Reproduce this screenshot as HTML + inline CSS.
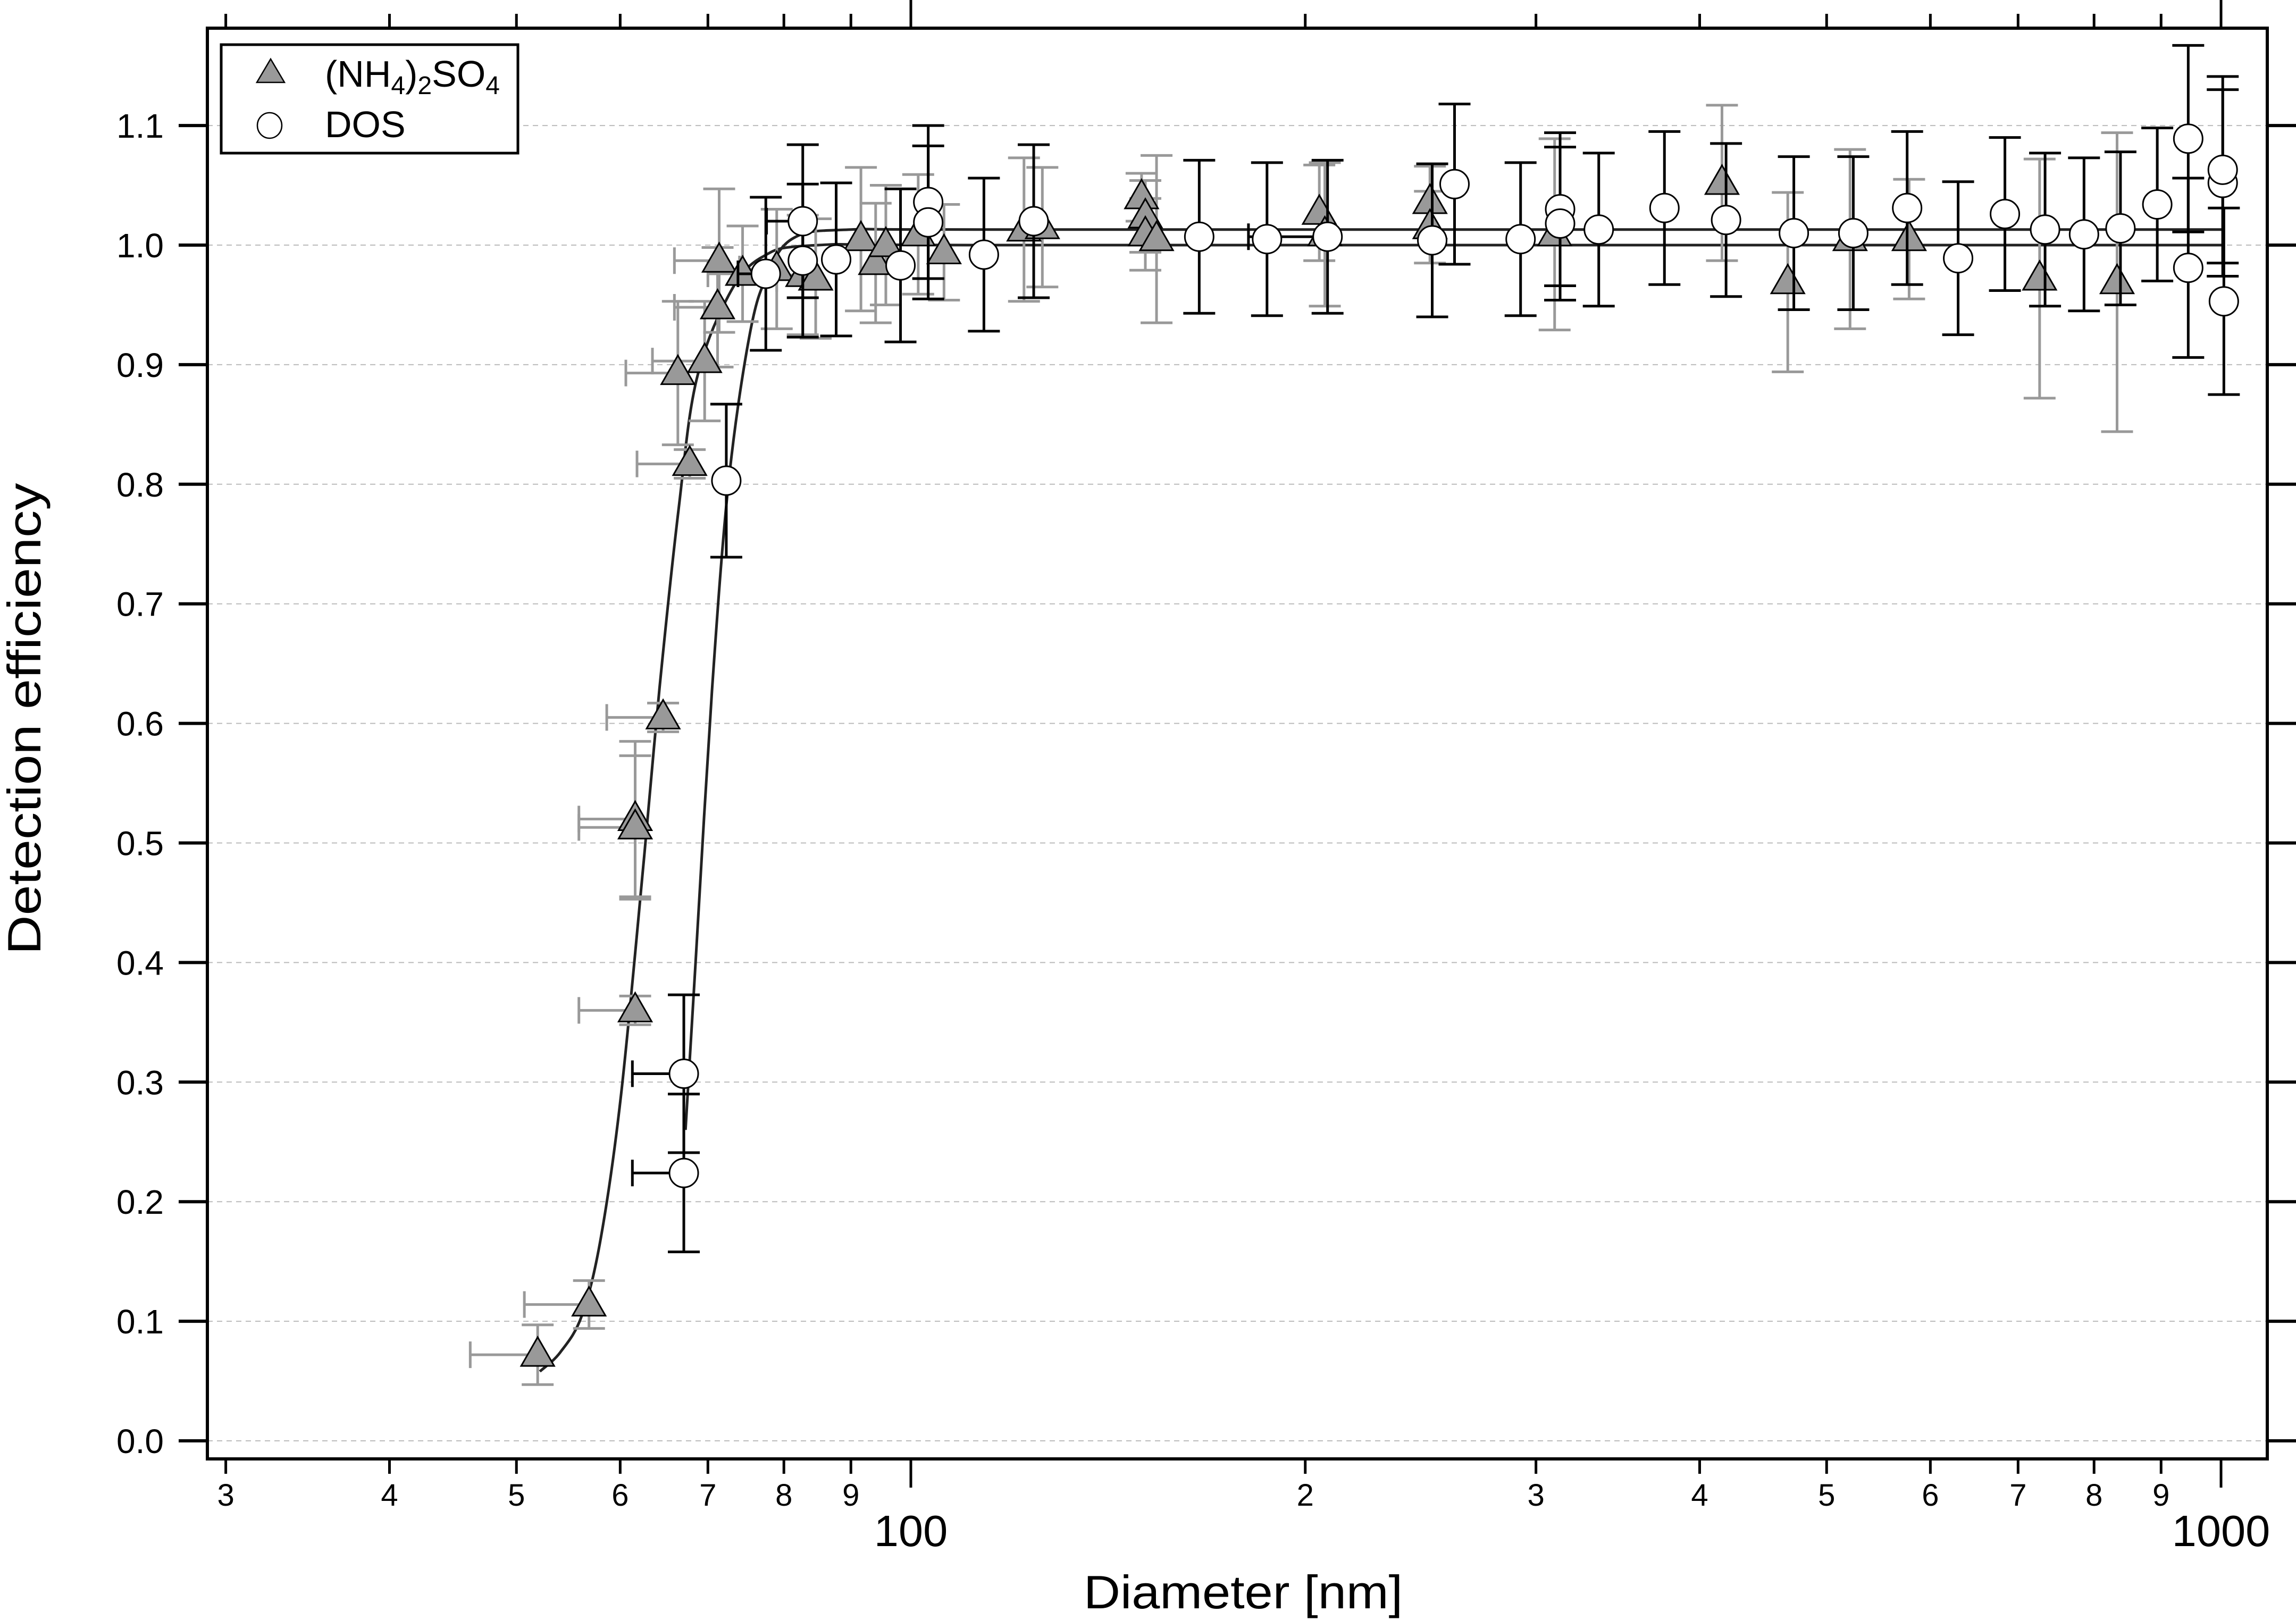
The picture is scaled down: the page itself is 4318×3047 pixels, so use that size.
<!DOCTYPE html>
<html><head><meta charset="utf-8"><style>
html,body{margin:0;padding:0;background:#fff}
svg{display:block;font-family:"Liberation Sans",Arial,sans-serif}
</style></head><body>
<svg id="chart" width="4318" height="3047" viewBox="0 0 4318 3047" xmlns="http://www.w3.org/2000/svg">
<rect x="0" y="0" width="4318" height="3047" fill="#fff"/>
<g id="grid"></g>
<g id="curves"></g>
<g id="tri-err"></g>
<g id="tri-pts"></g>
<g id="circ-err"></g>
<g id="circ-pts"></g>
<g id="axes"></g>
<g>
  <rect x="416" y="84" width="558" height="204" fill="#fff" stroke="#000" stroke-width="5"/>
  <polygon points="509,111 535,155 483,155" fill="#999" stroke="#000" stroke-width="2.5"/>
  <text x="611" y="163" font-size="70">(NH<tspan font-size="48" dy="14">4</tspan><tspan dy="-14">)</tspan><tspan font-size="48" dy="14">2</tspan><tspan dy="-14">SO</tspan><tspan font-size="48" dy="14">4</tspan></text>
  <ellipse cx="507" cy="236" rx="23" ry="24" fill="#fff" stroke="#000" stroke-width="2.5"/>
  <text x="611" y="258" font-size="70">DOS</text>
</g>
<text x="2338" y="3025" font-size="88" text-anchor="middle" textLength="600" lengthAdjust="spacingAndGlyphs">Diameter [nm]</text>
<text transform="translate(76,1352) rotate(-90)" x="0" y="0" font-size="88" text-anchor="middle" textLength="887" lengthAdjust="spacingAndGlyphs">Detection efficiency</text>
</svg>
<script>
// ---- data ----
const triD   = [51.9,56.8,61.6,61.6,61.6,64.7,66.4,67.8,69.6,71.2,71.4,74.4,79,82.7,84.6,91.6,94,95.7,101.3,106,122,126,150,151,151,154,205,207,249,249,310,416,467,521,578,727,833];
const triV   = [0.072,0.114,0.36,0.52,0.513,0.605,0.893,0.817,0.903,0.948,0.987,0.976,0.98,0.975,0.972,1.005,0.985,1.0,1.009,0.994,1.013,1.015,1.04,1.024,1.009,1.005,1.027,1.009,1.036,1.015,1.009,1.052,0.969,1.005,1.005,0.972,0.969];
const triYErr= [0.025,0.02,0.012,0.065,0.06,0.012,0.06,0.012,0.05,0.05,0.06,0.04,0.05,0.05,0.05,0.06,0.05,0.05,0.05,0.04,0.06,0.05,0.02,0.03,0.03,0.07,0.04,0.06,0.03,0.03,0.08,0.065,0.075,0.075,0.05,0.1,0.125];
const triXLo = [46.1,50.7,55.8,55.8,55.8,58.6,60.6,61.8,63.5,66,66,70,74,77,79,0,0,0,0,0,0,0,0,0,0,0,0,0,0,0,0,0,0,0,0,0,0];
const circD  = [67.1,67.1,72.3,77.5,82.7,82.7,87.7,98.2,103.1,103.1,113.7,124.1,166,187,208,250,260,292,313,313,335,376,419,472,524,576,630,684,734,786,838,894,944,944,1003,1003,1005];
const circV  = [0.224,0.307,0.803,0.976,1.02,0.987,0.988,0.983,1.036,1.019,0.992,1.02,1.007,1.005,1.007,1.004,1.051,1.005,1.03,1.018,1.013,1.031,1.021,1.01,1.01,1.031,0.989,1.026,1.013,1.009,1.014,1.034,1.089,0.981,1.052,1.063,0.953];
const circYErr=[0.066,0.066,0.064,0.064,0.064,0.064,0.064,0.064,0.064,0.064,0.064,0.064,0.064,0.064,0.064,0.064,0.067,0.064,0.064,0.064,0.064,0.064,0.064,0.064,0.064,0.064,0.064,0.064,0.064,0.064,0.064,0.064,0.078,0.075,0.078,0.078,0.078];
const circXLo= [61.3,61.3,0,73.8,77.6,0,0,0,0,0,0,0,0,0,181,0,0,0,0,0,0,0,0,0,0,0,0,0,0,0,0,0,0,0,0,0,0];
const fitTriD = [52.1,54,56.1,58,60.1,62.6,64.3,66.5,68.6,72.6,77,85,120,1005];
const fitTriV = [0.058,0.074,0.105,0.17,0.29,0.49,0.63,0.78,0.887,0.958,0.99,1.0,1.0,1.0];
const fitCircD = [67.3,68.5,70.5,72.6,75.3,77.7,81.4,90,120,1005];
const fitCircV = [0.26,0.4,0.627,0.802,0.924,0.975,1.006,1.013,1.013,1.013];
const xMinorTicks = [30,40,50,60,70,80,90,200,300,400,500,600,700,800,900];
const xMinorLabels = ["3","4","5","6","7","8","9","2","3","4","5","6","7","8","9"];
const xMajorTicks = [100,1000];
const xMajorLabels = ["100","1000"];
const yTicks = [0,0.1,0.2,0.3,0.4,0.5,0.6,0.7,0.8,0.9,1.0,1.1];
const yTickLabels = ["0.0","0.1","0.2","0.3","0.4","0.5","0.6","0.7","0.8","0.9","1.0","1.1"];

// ---- axis functions ----
const L=390,R=4264,T=53,B=2744;
function X(d){return 1713+2464*Math.log10(d/100);}
function Y(v){return 2710-2249*v;}
const NS="http://www.w3.org/2000/svg";
function mk(tag,attrs,parent){const e=document.createElementNS(NS,tag);for(const k in attrs)e.setAttribute(k,attrs[k]);parent.appendChild(e);return e;}
const g=id=>document.getElementById(id);

// grid
yTicks.forEach((v,i)=>{
  const l=mk('line',{x1:L,x2:R,y1:Y(v),y2:Y(v),stroke:'#bbb','stroke-width':2,'stroke-dasharray':'10 8'},g('grid'));
  
  
});

// curves
function curvePath(ds,vs){
  const p=ds.map((d,i)=>[X(d),Y(vs[i])]);
  let s='M'+p[0][0]+','+p[0][1];
  for(let i=0;i<p.length-1;i++){
    const p0=p[Math.max(0,i-1)],p1=p[i],p2=p[i+1],p3=p[Math.min(p.length-1,i+2)];
    const c1=[p1[0]+(p2[0]-p0[0])/6,p1[1]+(p2[1]-p0[1])/6];
    const c2=[p2[0]-(p3[0]-p1[0])/6,p2[1]-(p3[1]-p1[1])/6];
    s+=' C'+c1[0]+','+c1[1]+' '+c2[0]+','+c2[1]+' '+p2[0]+','+p2[1];
  }
  return s;
}
const c1=mk('path',{d:curvePath(fitTriD,fitTriV),fill:'none',stroke:'#222','stroke-width':5},g('curves'));


const c2=mk('path',{d:curvePath(fitCircD,fitCircV),fill:'none',stroke:'#222','stroke-width':5},g('curves'));



// error bars
function errBars(ds,vs,ye,xl,color,parent,prefix){
  ds.forEach((d,i)=>{
    const x=X(d),y=Y(vs[i]),y1=Y(vs[i]+ye[i]),y2=Y(vs[i]-ye[i]);
    const grp=mk('g',{stroke:color,'stroke-width':5,fill:'none'},parent);
    
    
    mk('line',{x1:x,x2:x,y1:y1,y2:y2},grp);
    mk('line',{x1:x-30,x2:x+30,y1:y1,y2:y1},grp);
    mk('line',{x1:x-30,x2:x+30,y1:y2,y2:y2},grp);
    if(xl[i]>0){const xx=X(xl[i]);mk('line',{x1:xx,x2:x,y1:y,y2:y},grp);mk('line',{x1:xx,x2:xx,y1:y-25,y2:y+25},grp);}
  });
}
errBars(triD,triV,triYErr,triXLo,'#999',g('tri-err'),'ammonium-sulfate');
errBars(circD,circV,circYErr,circXLo,'#000',g('circ-err'),'dos');

// markers
triD.forEach((d,i)=>{
  const x=X(d),y=Y(triV[i]);
  const p=mk('polygon',{points:(x)+','+(y-33)+' '+(x+31)+','+(y+21)+' '+(x-31)+','+(y+21),fill:'#999',stroke:'#000','stroke-width':3},g('tri-pts'));
  
  
});
circD.forEach((d,i)=>{
  const c=mk('circle',{cx:X(d),cy:Y(circV[i]),r:27,fill:'#fff',stroke:'#000','stroke-width':3},g('circ-pts'));
  
  
});

// axes
const ax=g('axes');
const fr=mk('rect',{x:L,y:T,width:R-L,height:B-T,fill:'none',stroke:'#000','stroke-width':6},ax);


xMinorTicks.forEach((d,i)=>{
  const x=X(d);
  mk('line',{x1:x,x2:x,y1:B,y2:B+28,stroke:'#000','stroke-width':5},ax);
  mk('line',{x1:x,x2:x,y1:T,y2:T-27,stroke:'#000','stroke-width':5},ax);
  const t=mk('text',{x:x,y:2832,'font-size':58,'text-anchor':'middle'},ax);
  t.textContent=xMinorLabels[i];
  
  
});
xMajorTicks.forEach((d,i)=>{
  const x=X(d);
  mk('line',{x1:x,x2:x,y1:B,y2:B+54,stroke:'#000','stroke-width':5},ax);
  mk('line',{x1:x,x2:x,y1:T,y2:0,stroke:'#000','stroke-width':5},ax);
  const t=mk('text',{x:x,y:2908,'font-size':83,'text-anchor':'middle'},ax);
  t.textContent=xMajorLabels[i];
  
  
});
yTicks.forEach((v,i)=>{
  const y=Y(v);
  mk('line',{x1:336,x2:L,y1:y,y2:y,stroke:'#000','stroke-width':6},ax);
  mk('line',{x1:R,x2:4318,y1:y,y2:y,stroke:'#000','stroke-width':6},ax);
  const t=mk('text',{x:308,y:y+23,'font-size':64,'text-anchor':'end'},ax);
  t.textContent=yTickLabels[i];
  
  
});
</script>
</body></html>
